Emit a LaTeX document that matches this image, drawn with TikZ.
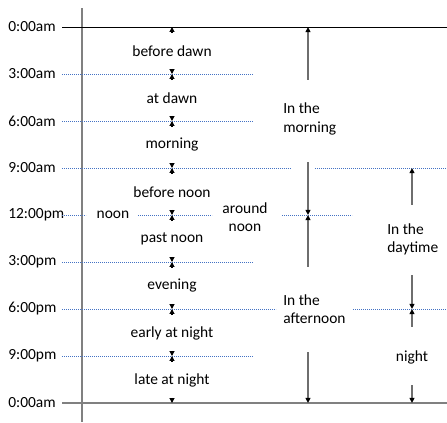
\documentclass[tikz,border=0pt]{standalone}
\usepackage{fontspec}
\setmainfont{Carlito}
\usetikzlibrary{arrows.meta}
\definecolor{dotblue}{RGB}{68,114,196}
\definecolor{axisgray}{RGB}{128,128,128}
\definecolor{shaftgray}{RGB}{110,110,110}
\begin{document}
\begin{tikzpicture}[x=0.75pt,y=-0.75pt,
  every node/.style={font=\fontsize{11.6}{13.8}\selectfont, inner sep=0pt},
  tlabel/.style={anchor=west},
  seglabel/.style={minimum height=26.25pt, align=center},
  span/.style={minimum width=1pt},
  twoline/.style={align=left, anchor=west},
  dotline/.style={dotblue, line width=0.75pt, dash pattern=on 0.9pt off 0.6pt},
  sarrow/.style={-{Triangle[length=3.6pt,width=3.6pt]}, line width=0.8pt},
  barrow/.style={shaftgray, line width=1pt, -{Triangle[black,length=3.8pt,width=3.6pt]}},
]
\useasboundingbox (0,0) rectangle (447,422);

% time axis
\draw[axisgray, line width=1.2pt] (82,8) -- (82,422);

% hour labels
\node[tlabel] (h0)  at (8,27)  {0:00am};
\node[tlabel] (h3)  at (8,74)  {3:00am};
\node[tlabel] (h6)  at (8,121) {6:00am};
\node[tlabel] (h9)  at (8,168) {9:00am};
\node[tlabel] (h12) at (8,215) {12:00pm};
\node[tlabel] (h15) at (8,262) {3:00pm};
\node[tlabel] (h18) at (8,309) {6:00pm};
\node[tlabel] (h21) at (8,356) {9:00pm};
\node[tlabel] (h24) at (8,403) {0:00am};

% hour rules
\draw[black, line width=0.75pt] (62,27) -- (447,27);
\draw[dotline] (62,74) -- (253,74);
\draw[dotline] (62,121) -- (253,121);
\draw[dotline] (62,168) -- (291,168);
\draw[dotline] (315,168) -- (447,168);
\draw[dotline] (62,215) -- (86,215);
\draw[dotline] (138,215) -- (212,215);
\draw[dotline] (282,215) -- (352,215);
\draw[dotline] (62,262) -- (253,262);
\draw[dotline] (62,309) -- (276,309);
\draw[dotline] (353,309) -- (447,309);
\draw[dotline] (62,356) -- (253,356);
\draw[axisgray, line width=1.2pt] (62,403) -- (447,403);

% points on the rules where the small arrows end
\foreach \n/\y in {0/27,3/74,6/121,9/168,12/215,15/262,18/309,21/356,24/403}
  \coordinate (c\n) at (172,\y);

% three-hour periods
\node[seglabel] (s0)  at (172,51)  {before dawn};
\node[seglabel] (s3)  at (172,98)  {at dawn};
\node[seglabel] (s6)  at (172,145) {morning};
\node[seglabel] (s9)  at (172,192) {before noon};
\node[seglabel] (s12) at (172,239) {past noon};
\node[seglabel] (s15) at (172,286) {evening};
\node[seglabel] (s18) at (172,333) {early at night};
\node[seglabel] (s21) at (172,380) {late at night};

\draw[sarrow] (s0.north) -- (c0);   \draw[sarrow] (s0.south) -- (c3);
\draw[sarrow] (s3.north) -- (c3);   \draw[sarrow] (s3.south) -- (c6);
\draw[sarrow] (s6.north) -- (c6);   \draw[sarrow] (s6.south) -- (c9);
\draw[sarrow] (s9.north) -- (c9);   \draw[sarrow] (s9.south) -- (c12);
\draw[sarrow] (s12.north) -- (c12); \draw[sarrow] (s12.south) -- (c15);
\draw[sarrow] (s15.north) -- (c15); \draw[sarrow] (s15.south) -- (c18);
\draw[sarrow] (s18.north) -- (c18); \draw[sarrow] (s18.south) -- (c21);
\draw[sarrow] (s21.north) -- (c21); \draw[sarrow] (s21.south) -- (c24);

% noon
\node (noon) at (113,215) {noon};
\node[align=center] (around) at (245,217) {around\\noon};

% half-day spans
\coordinate (m0)  at (308,27);
\coordinate (m12) at (308,215);
\coordinate (m24) at (308,403);
\node[span, minimum height=61.5pt] (mspan) at (308,121) {};
\node[span, minimum height=63.75pt] (aspan) at (308,309.5) {};
\node[twoline] (morning) at (283,119) {In the\\morning};
\node[twoline] (afternoon) at (283,309) {In the\\afternoon};
\draw[barrow] (mspan.north) -- (m0);
\draw[barrow] (mspan.south) -- (m12);
\draw[barrow] (aspan.north) -- (m12);
\draw[barrow] (aspan.south) -- (m24);

% day and night
\coordinate (d9)  at (412,168);
\coordinate (d18) at (412,309);
\coordinate (d24) at (412,403);
\node[span, minimum height=52.5pt] (dspan) at (412,240) {};
\node[span, minimum height=43.5pt] (nspan) at (412,356) {};
\node[twoline] (daytime) at (387,239.5) {In the\\daytime};
\node (night) at (412,357) {night};
\draw[barrow] (dspan.north) -- (d9);
\draw[barrow] (dspan.south) -- (d18);
\draw[barrow] (nspan.north) -- (d18);
\draw[barrow] (nspan.south) -- (d24);
\end{tikzpicture}
\end{document}
